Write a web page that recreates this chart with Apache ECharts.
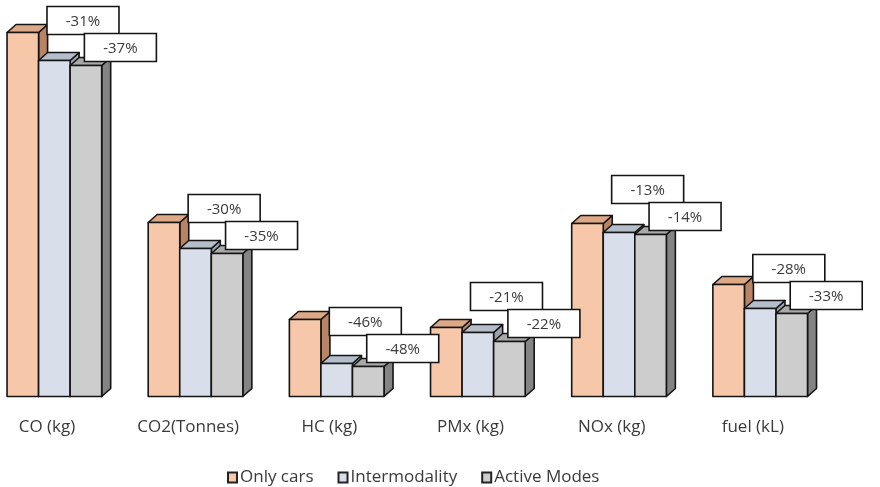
<!DOCTYPE html>
<html>
<head>
<meta charset="utf-8">
<script src="https://cdn.jsdelivr.net/npm/echarts@6/dist/echarts.min.js"></script>
<style>html,body{margin:0;padding:0;background:#fff}#c{width:880px;height:487px}</style>
</head>
<body>
<div id="c"></div>
<script>
const categories = ['CO (kg)', 'CO2(Tonnes)', 'HC (kg)', 'PMx (kg)', 'NOx (kg)', 'fuel (kL)'];
const seriesNames = ['Only cars', 'Intermodality', 'Active Modes'];
const onlyCars = [364, 174, 77, 69, 173, 112];
const intermodality = [336, 148, 33, 64, 164, 88];
const activeModes = [331, 143, 30, 55, 162, 83];
const interPct = ['-31%', '-30%', '-46%', '-21%', '-13%', '-28%'];
const activePct = ['-37%', '-35%', '-48%', '-22%', '-14%', '-33%'];

const FONT = '"Open Sans", "Liberation Sans", sans-serif';
const faces = [
  {front: '#F6C8A9', top: '#DDA886', side: '#B98466'},
  {front: '#D8DFEB', top: '#B4BDCA', side: '#9AA2AD'},
  {front: '#CDCDCD', top: '#A9A9A9', side: '#848484'}
];
const DX = 9, DY = -8;
const STROKE = '#141414';

function barRenderer(s) {
  return function (params, api) {
    const idx = api.value(0);
    const v = api.value(1);
    const p = api.coord([idx, v]);
    const base = api.coord([idx, 0])[1];
    const band = api.size([1, 0])[0];
    const w = band * 0.2235;
    const x0 = p[0] - band * 0.283 + s * w;
    const top = p[1];
    const f = faces[s];
    const ls = {stroke: STROKE, lineWidth: 1.6, lineJoin: 'round'};
    return {
      type: 'group',
      children: [
        {type: 'polygon', shape: {points: [[x0 + w, top], [x0 + w + DX, top + DY], [x0 + w + DX, base + DY], [x0 + w, base]]},
         style: Object.assign({fill: f.side}, ls)},
        {type: 'polygon', shape: {points: [[x0, top], [x0 + DX, top + DY], [x0 + w + DX, top + DY], [x0 + w, top]]},
         style: Object.assign({fill: f.top}, ls)},
        {type: 'rect', shape: {x: x0, y: top, width: w, height: base - top},
         style: Object.assign({fill: f.front}, ls)}
      ]
    };
  };
}

function labelRenderer(params, api) {
  const idx = api.value(0);
  const activeVal = api.value(1);
  const p = api.coord([idx, activeVal]);
  const band = api.size([1, 0])[0];
  const bw = 72, bh = 28;
  const aBottom = p[1] - 4;
  const aTop = aBottom - bh;
  const iTop = aTop - bh + 1;
  const iCx = p[0] + band * 0.255;
  const aCx = p[0] + band * 0.52;
  const box = (cx, y, txt) => ([
    {type: 'rect', shape: {x: cx - bw / 2, y: y, width: bw, height: bh},
     style: {fill: '#fff', stroke: STROKE, lineWidth: 1.6}},
    {type: 'text', x: cx, y: y + bh / 2 + 1,
     style: {text: txt, align: 'center', verticalAlign: 'middle', fill: '#3a3a3a', font: '15px ' + FONT}}
  ]);
  return {
    type: 'group',
    children: box(iCx, iTop, interPct[idx]).concat(box(aCx, aTop, activePct[idx]))
  };
}

const valueSets = [onlyCars, intermodality, activeModes];
const series = valueSets.map((vals, s) => ({
  name: seriesNames[s],
  type: 'custom',
  renderItem: barRenderer(s),
  itemStyle: {color: faces[s].front, borderColor: '#222', borderWidth: 1},
  encode: {x: 0, y: 1},
  data: vals.map((v, i) => [i, v]),
  z: 2
}));
series.push({
  name: 'labels',
  type: 'custom',
  renderItem: labelRenderer,
  encode: {x: 0, y: 1},
  data: activeModes.map((v, i) => [i, v]),
  z: 5,
  silent: true
});

const chart = echarts.init(document.getElementById('c'), null, {renderer: 'canvas'});
chart.setOption({
  animation: false,
  backgroundColor: '#fff',
  grid: {left: -23.6, width: 847, top: 16.5, bottom: 90.5, containLabel: false, outerBoundsMode: 'none'},
  xAxis: {
    type: 'category',
    data: categories,
    axisLine: {show: false},
    axisTick: {show: false},
    splitLine: {show: false},
    axisLabel: {fontSize: 17, fontFamily: FONT, color: '#3a3a3a', margin: 22, interval: 0}
  },
  yAxis: {type: 'value', min: 0, max: 380, show: false},
  legend: {
    data: seriesNames,
    left: 222,
    top: 464,
    icon: 'rect',
    itemWidth: 9,
    itemHeight: 10,
    itemGap: 24,
    textStyle: {fontSize: 17, fontFamily: FONT, color: '#3a3a3a', padding: [0, 0, 0, -2]}
  },
  series: series
});
</script>
</body>
</html>
